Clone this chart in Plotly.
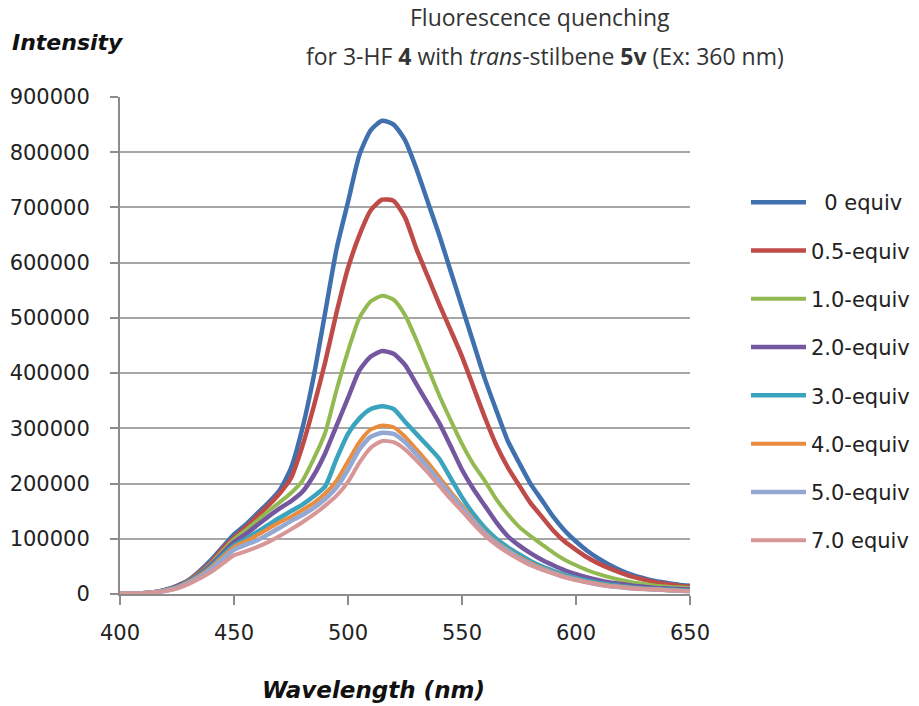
import plotly.graph_objects as go

wavelength = [400, 405, 410, 415, 420, 425, 430, 435, 440, 445,
              450, 455, 460, 465, 470, 475, 480, 485, 490, 495,
              500, 505, 510, 515, 520, 525, 530, 535, 540, 545,
              550, 555, 560, 565, 570, 575, 580, 585, 590, 595,
              600, 605, 610, 615, 620, 625, 630, 635, 640, 645, 650]

eq_0 = [1000, 1000, 1500, 3000, 8000, 15000, 25000, 42000, 62000, 85000,
        108000, 125000, 145000, 165000, 188000, 228000, 300000, 395000, 510000, 625000,
        710000, 795000, 840000, 857000, 850000, 822000, 770000, 710000, 650000, 585000,
        520000, 455000, 390000, 333000, 278000, 238000, 200000, 170000, 140000, 115000,
        95000, 78000, 64000, 52000, 42000, 34000, 28000, 23000, 20000, 17000, 15000]

eq_05 = [1000, 1000, 1500, 3000, 7500, 14000, 24000, 40000, 58000, 82000,
         102000, 120000, 140000, 160000, 182000, 210000, 268000, 340000, 420000, 510000,
         590000, 650000, 695000, 714000, 712000, 682000, 625000, 575000, 525000, 478000,
         430000, 375000, 320000, 270000, 230000, 197000, 165000, 140000, 115000, 95000,
         80000, 66000, 55000, 46000, 38000, 31000, 26000, 21000, 18000, 15000, 13000]

eq_1 = [1000, 1000, 1500, 3000, 7000, 13000, 23000, 38000, 56000, 78000,
        99000, 115000, 132000, 150000, 166000, 183000, 205000, 245000, 292000, 370000,
        440000, 500000, 530000, 540000, 533000, 505000, 460000, 410000, 360000, 315000,
        272000, 235000, 205000, 172000, 145000, 122000, 105000, 90000, 75000, 62000,
        52000, 43000, 36000, 30000, 25000, 21000, 18000, 15000, 13000, 12000, 11000]

eq_2 = [1000, 1000, 1500, 3000, 7000, 13000, 22000, 36000, 53000, 74000,
        94000, 108000, 124000, 140000, 155000, 168000, 185000, 215000, 255000, 305000,
        355000, 405000, 430000, 440000, 435000, 415000, 380000, 345000, 310000, 268000,
        225000, 190000, 160000, 130000, 105000, 88000, 74000, 62000, 52000, 43000,
        36000, 30000, 25000, 21000, 18000, 15000, 13000, 11000, 10000, 9000, 8000]

eq_3 = [1000, 1000, 1500, 3000, 7000, 12000, 22000, 34000, 50000, 70000,
        88000, 99000, 112000, 125000, 138000, 150000, 162000, 177000, 195000, 245000,
        290000, 318000, 335000, 340000, 335000, 312000, 290000, 268000, 245000, 210000,
        175000, 145000, 120000, 100000, 85000, 72000, 60000, 50000, 42000, 35000,
        29000, 24000, 20000, 17000, 14000, 12000, 10000, 9000, 8000, 7000, 6000]

eq_4 = [1000, 1000, 1500, 3000, 6500, 12000, 21000, 33000, 48000, 67000,
        85000, 95000, 106000, 118000, 130000, 140000, 152000, 165000, 182000, 205000,
        240000, 275000, 298000, 305000, 302000, 285000, 262000, 238000, 212000, 185000,
        160000, 135000, 112000, 94000, 80000, 67000, 56000, 47000, 39000, 32000,
        27000, 22000, 18000, 15000, 13000, 11000, 9000, 8000, 7000, 6000, 5500]

eq_5 = [1000, 1000, 1500, 3000, 6000, 11000, 20000, 31000, 45000, 63000,
        80000, 89000, 97000, 108000, 120000, 132000, 143000, 156000, 172000, 193000,
        225000, 262000, 285000, 292000, 290000, 275000, 253000, 230000, 205000, 180000,
        156000, 132000, 110000, 92000, 78000, 65000, 54000, 45000, 38000, 31000,
        26000, 21000, 17000, 14000, 12000, 10000, 9000, 8000, 7000, 6000, 5000]

eq_7 = [1000, 1000, 1500, 3000, 5500, 10000, 18000, 28000, 40000, 55000,
        70000, 77000, 85000, 94000, 105000, 117000, 130000, 144000, 160000, 178000,
        203000, 238000, 265000, 277000, 275000, 262000, 242000, 220000, 196000, 172000,
        150000, 127000, 106000, 89000, 75000, 63000, 52000, 44000, 37000, 30000,
        25000, 21000, 17000, 14000, 12000, 10000, 9000, 8000, 7000, 6000, 5000]

series_names = ["\u00a0\u00a00 equiv", "0.5-equiv", "1.0-equiv", "2.0-equiv",
                "3.0-equiv", "4.0-equiv", "5.0-equiv", "7.0 equiv"]
series_values = [eq_0, eq_05, eq_1, eq_2, eq_3, eq_4, eq_5, eq_7]
series_colors = ["#4070AE", "#BE4B48", "#93B951", "#7557A0",
                 "#3AA3BD", "#E98C3E", "#93A9D3", "#D79796"]
series_widths = [4.5, 4.5, 4, 4.5, 4.5, 4, 4.5, 4]

y_ticks = [0, 100000, 200000, 300000, 400000, 500000, 600000, 700000, 800000, 900000]
x_ticks = [400, 450, 500, 550, 600, 650]

fig = go.Figure()
for i, (name, vals, col, w) in enumerate(zip(series_names, series_values, series_colors, series_widths)):
    fig.add_trace(go.Scatter(
        x=wavelength, y=vals, mode="lines", name=name,
        line=dict(color=col, width=w, shape="spline", smoothing=0.6),
        legendgroup="g%d" % i,
    ))

fig.update_layout(
    width=919, height=706,
    margin=dict(l=120, r=229, t=97, b=112, autoexpand=False),
    paper_bgcolor="white", plot_bgcolor="white",
    font=dict(family="DejaVu Sans", size=20, color="#222222"),
    showlegend=True,
    legend=dict(
        x=1.0982, y=0.829, xanchor="left", yanchor="top",
        font=dict(family="DejaVu Sans", size=21, color="#222222"),
        itemwidth=55, tracegroupgap=18, bgcolor="rgba(0,0,0,0)",
    ),
    xaxis=dict(
        range=[400, 650], tickvals=x_ticks, showgrid=False, zeroline=False,
        showline=True, linecolor="#8c8c8c", linewidth=2, automargin=False,
        ticks="outside", ticklen=9, tickwidth=1.5, tickcolor="#8c8c8c",
        tickfont=dict(family="DejaVu Sans", size=21, color="#222222"),
        ticklabelstandoff=10,
    ),
    yaxis=dict(
        range=[0, 900000], tickvals=y_ticks, tickformat="d",
        showgrid=True, gridcolor="#a6a6a6", gridwidth=2, zeroline=False,
        showline=True, linecolor="#8c8c8c", linewidth=2, automargin=False,
        ticks="outside", ticklen=8, tickwidth=1.5, tickcolor="#8c8c8c",
        tickfont=dict(family="DejaVu Sans", size=21, color="#222222"),
        ticklabelstandoff=16,
    ),
    annotations=[
        dict(text="<b><i>Intensity</i></b>", xref="paper", yref="paper",
             x=-0.193, y=1.109, xanchor="left", yanchor="middle", showarrow=False,
             font=dict(family="DejaVu Sans", size=22, color="#111111")),
        dict(text="<b><i>Wavelength (nm)</i></b>", xref="paper", yref="paper",
             x=0.445, y=-0.193, xanchor="center", yanchor="middle", showarrow=False,
             font=dict(family="DejaVu Sans", size=23, color="#111111")),
        dict(text="Fluorescence quenching", xref="paper", yref="paper",
             x=0.737, y=1.161, xanchor="center", yanchor="middle", showarrow=False,
             font=dict(family="Open Sans", size=23, color="#333333")),
        dict(text="for 3-HF <b>4</b> with <i>trans</i>-stilbene <b>5v</b> (Ex: 360 nm)",
             xref="paper", yref="paper",
             x=0.745, y=1.082, xanchor="center", yanchor="middle", showarrow=False,
             font=dict(family="Open Sans", size=23, color="#333333")),
    ],
)

fig.write_html("out.html", config={"displayModeBar": False},
               post_script="document.body.style.margin='0';document.body.style.overflow='hidden';")
